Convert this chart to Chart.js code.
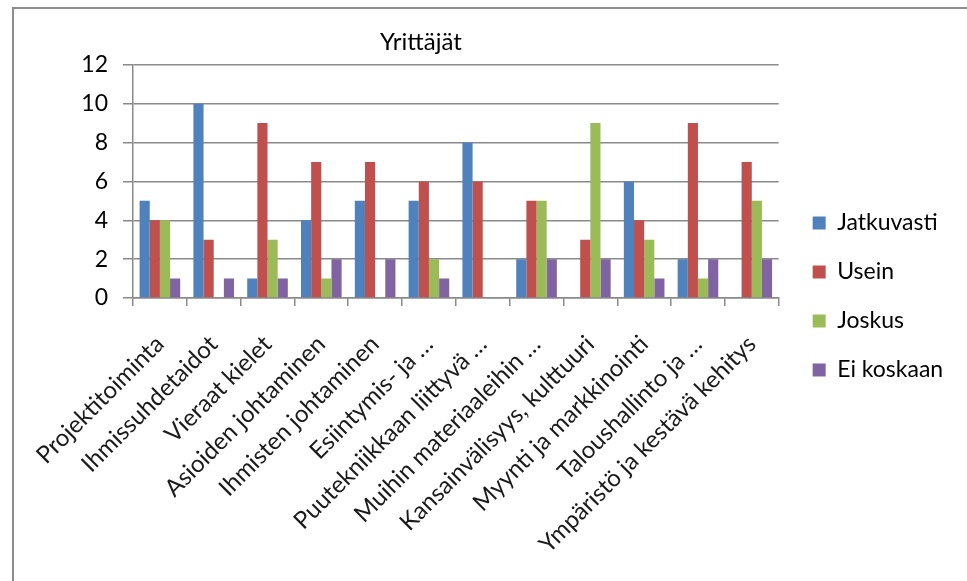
<!DOCTYPE html>
<html>
<head>
<meta charset="utf-8">
<title>Yrittäjät</title>
<script src="https://cdn.jsdelivr.net/npm/chart.js@4.4.1/dist/chart.umd.min.js"></script>
<style>
  html, body { margin: 0; padding: 0; background: #fff; }
  #frame {
    position: absolute; left: 12px; top: 7px; width: 955px; height: 574px;
    border-left: 2px solid #8c8c8c; border-top: 2px solid #8c8c8c;
  }
  #wrap { position: absolute; left: 0; top: 0; width: 967px; height: 581px; }
</style>
</head>
<body>
<div id="frame"></div>
<div id="wrap"><canvas id="chart"></canvas></div>
<script>
// kategoriat ja sarjat
const categories = [
    'Projektitoiminta',
    'Ihmissuhdetaidot',
    'Vieraat kielet',
    'Asioiden johtaminen',
    'Ihmisten johtaminen',
    'Esiintymis- ja …',
    'Puutekniikkaan liittyvä …',
    'Muihin materiaaleihin …',
    'Kansainvälisyys, kulttuuri',
    'Myynti ja markkinointi',
    'Taloushallinto ja …',
    'Ympäristö ja kestävä kehitys'
];
const jatkuvasti = [5, 10, 1, 4, 5, 5, 8, 2, 0, 6, 2, 0];
const usein      = [4, 3, 9, 7, 7, 6, 6, 5, 3, 4, 9, 7];
const joskus     = [4, 0, 3, 1, 0, 2, 0, 5, 9, 3, 1, 5];
const eiKoskaan  = [1, 1, 1, 2, 2, 1, 0, 2, 2, 1, 2, 2];

// y-akselin asteikko
const yMin = 0;
const yMax = 12;
const yStep = 2;

const gridColor = '#8a8a8a';
const font = 'Lato, "Open Sans", sans-serif';

// otsikko hieman vasemmalle kuten alkuperäisessä
const shiftTitle = {
    id: 'shiftTitle',
    afterLayout(chart) {
        if (chart.titleBlock) chart.titleBlock.left -= 70;
    }
};

const ctx = document.getElementById('chart').getContext('2d');
new Chart(ctx, {
    type: 'bar',
    data: {
        labels: categories,
        datasets: [
            { label: 'Jatkuvasti', data: jatkuvasti, backgroundColor: '#4f81bd' },
            { label: 'Usein', data: usein, backgroundColor: '#c0504d' },
            { label: 'Joskus', data: joskus, backgroundColor: '#9bbb59' },
            { label: 'Ei koskaan', data: eiKoskaan, backgroundColor: '#8064a2' }
        ]
    },
    plugins: [shiftTitle],
    options: {
        responsive: true,
        maintainAspectRatio: false,
        animation: false,
        categoryPercentage: 0.755,
        barPercentage: 1,
        layout: { padding: { left: 0, right: 23, top: 12, bottom: 0 } },
        plugins: {
            title: {
                display: true,
                text: 'Yrittäjät',
                fullSize: false,
                color: '#000',
                font: { family: font, size: 24, weight: 'normal', lineHeight: 1.2 },
                padding: { top: 16, bottom: 8 }
            },
            legend: {
                position: 'right',
                labels: {
                    color: '#000',
                    font: { family: font, size: 23 },
                    boxWidth: 13,
                    boxHeight: 13,
                    padding: 26
                }
            },
            tooltip: { enabled: false }
        },
        scales: {
            x: {
                grid: {
                    drawOnChartArea: false,
                    color: gridColor,
                    lineWidth: 1.5,
                    tickLength: 8
                },
                border: { color: gridColor, width: 1.5 },
                ticks: {
                    autoSkip: false,
                    maxRotation: 45,
                    minRotation: 45,
                    padding: 24,
                    color: '#1a1a1a',
                    font: { family: font, size: 24 }
                },
                afterFit: (scale) => { scale.height = 283; }
            },
            y: {
                min: yMin,
                max: yMax,
                grid: { color: gridColor, lineWidth: 1.5, tickLength: 10 },
                border: { color: gridColor, width: 1.5 },
                ticks: {
                    stepSize: yStep,
                    padding: 15,
                    color: '#000',
                    font: { family: font, size: 23 }
                },
                afterFit: (scale) => { scale.width = 133; }
            },
            // tyhjä väli piirtoalueen ja selitteen välissä
            spacer: {
                type: 'linear',
                position: 'right',
                display: true,
                grid: { display: false },
                border: { display: false },
                ticks: { display: false },
                afterFit: (scale) => { scale.width = 8; }
            }
        }
    }
});
</script>
</body>
</html>
